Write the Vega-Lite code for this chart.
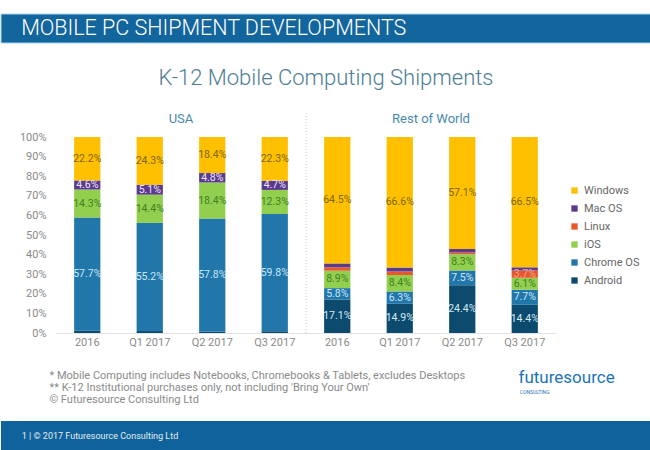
{
  "$schema": "https://vega.github.io/schema/vega-lite/v6.json",
  "background": "white",
  "padding": {"top": 13, "left": 0, "right": 0, "bottom": 0},
  "spacing": 17,
  "config": {"font": "Roboto", "view": {"stroke": null}},
  "vconcat": [
    {
      "width": 650,
      "height": 29,
      "layer": [
        {
          "data": {"values": [{"label": "banner"}]},
          "mark": {"type": "rect", "color": "#12659d", "stroke": "#a8d7f0", "strokeWidth": 1},
          "encoding": {}
        },
        {
          "data": {"values": [{"pos": 0.031, "label": "MOBILE PC SHIPMENT DEVELOPMENTS"}]},
          "mark": {"type": "text", "align": "left", "baseline": "middle", "fontSize": 21.5, "fontWeight": 300, "font": "Roboto", "color": "#ffffff"},
          "encoding": {
            "x": {"field": "pos", "type": "quantitative", "scale": {"domain": [0, 1]}, "axis": null},
            "text": {"field": "label"}
          }
        }
      ]
    },
    {
      "width": 650,
      "height": 196,
      "title": {
        "text": ["", "K-12 Mobile Computing Shipments"],
        "lineHeight": 6,
        "anchor": "middle",
        "frame": "group",
        "offset": 21,
        "fontSize": 22,
        "fontWeight": 300,
        "font": "Roboto",
        "color": "#4d7e94"
      },
      "data": {
        "values": [
          {"col": "USA|2016", "os": "Android", "rank": 1, "share": 0.012},
          {"col": "USA|2016", "os": "Chrome OS", "rank": 2, "share": 0.577},
          {"col": "USA|2016", "os": "iOS", "rank": 3, "share": 0.143},
          {"col": "USA|2016", "os": "Mac OS", "rank": 5, "share": 0.046},
          {"col": "USA|2016", "os": "Windows", "rank": 6, "share": 0.222},
          {"col": "USA|Q1 2017", "os": "Android", "rank": 1, "share": 0.010},
          {"col": "USA|Q1 2017", "os": "Chrome OS", "rank": 2, "share": 0.552},
          {"col": "USA|Q1 2017", "os": "iOS", "rank": 3, "share": 0.144},
          {"col": "USA|Q1 2017", "os": "Mac OS", "rank": 5, "share": 0.051},
          {"col": "USA|Q1 2017", "os": "Windows", "rank": 6, "share": 0.243},
          {"col": "USA|Q2 2017", "os": "Android", "rank": 1, "share": 0.006},
          {"col": "USA|Q2 2017", "os": "Chrome OS", "rank": 2, "share": 0.578},
          {"col": "USA|Q2 2017", "os": "iOS", "rank": 3, "share": 0.184},
          {"col": "USA|Q2 2017", "os": "Mac OS", "rank": 5, "share": 0.048},
          {"col": "USA|Q2 2017", "os": "Windows", "rank": 6, "share": 0.184},
          {"col": "USA|Q3 2017", "os": "Android", "rank": 1, "share": 0.009},
          {"col": "USA|Q3 2017", "os": "Chrome OS", "rank": 2, "share": 0.598},
          {"col": "USA|Q3 2017", "os": "iOS", "rank": 3, "share": 0.123},
          {"col": "USA|Q3 2017", "os": "Mac OS", "rank": 5, "share": 0.047},
          {"col": "USA|Q3 2017", "os": "Windows", "rank": 6, "share": 0.223},
          {"col": "Rest of World|2016", "os": "Android", "rank": 1, "share": 0.171},
          {"col": "Rest of World|2016", "os": "Chrome OS", "rank": 2, "share": 0.058},
          {"col": "Rest of World|2016", "os": "iOS", "rank": 3, "share": 0.089},
          {"col": "Rest of World|2016", "os": "Linux", "rank": 4, "share": 0.017},
          {"col": "Rest of World|2016", "os": "Mac OS", "rank": 5, "share": 0.020},
          {"col": "Rest of World|2016", "os": "Windows", "rank": 6, "share": 0.645},
          {"col": "Rest of World|Q1 2017", "os": "Android", "rank": 1, "share": 0.149},
          {"col": "Rest of World|Q1 2017", "os": "Chrome OS", "rank": 2, "share": 0.063},
          {"col": "Rest of World|Q1 2017", "os": "iOS", "rank": 3, "share": 0.084},
          {"col": "Rest of World|Q1 2017", "os": "Linux", "rank": 4, "share": 0.018},
          {"col": "Rest of World|Q1 2017", "os": "Mac OS", "rank": 5, "share": 0.020},
          {"col": "Rest of World|Q1 2017", "os": "Windows", "rank": 6, "share": 0.666},
          {"col": "Rest of World|Q2 2017", "os": "Android", "rank": 1, "share": 0.244},
          {"col": "Rest of World|Q2 2017", "os": "Chrome OS", "rank": 2, "share": 0.075},
          {"col": "Rest of World|Q2 2017", "os": "iOS", "rank": 3, "share": 0.083},
          {"col": "Rest of World|Q2 2017", "os": "Linux", "rank": 4, "share": 0.009},
          {"col": "Rest of World|Q2 2017", "os": "Mac OS", "rank": 5, "share": 0.018},
          {"col": "Rest of World|Q2 2017", "os": "Windows", "rank": 6, "share": 0.571},
          {"col": "Rest of World|Q3 2017", "os": "Android", "rank": 1, "share": 0.144},
          {"col": "Rest of World|Q3 2017", "os": "Chrome OS", "rank": 2, "share": 0.077},
          {"col": "Rest of World|Q3 2017", "os": "iOS", "rank": 3, "share": 0.061},
          {"col": "Rest of World|Q3 2017", "os": "Linux", "rank": 4, "share": 0.037},
          {"col": "Rest of World|Q3 2017", "os": "Mac OS", "rank": 5, "share": 0.016},
          {"col": "Rest of World|Q3 2017", "os": "Windows", "rank": 6, "share": 0.665}
        ]
      },
      "layer": [
        {
          "mark": {"type": "bar", "width": {"band": 0.42}},
          "encoding": {
            "x": {
              "field": "col",
              "type": "nominal",
              "scale": {
                "domain": ["USA|2016", "USA|Q1 2017", "USA|Q2 2017", "USA|Q3 2017", "Rest of World|2016", "Rest of World|Q1 2017", "Rest of World|Q2 2017", "Rest of World|Q3 2017"],
                "range": [55, 555],
                "paddingInner": 0,
                "paddingOuter": 0
              },
              "axis": {
                "labelExpr": "split(datum.label, '|')[1]",
                "labelAngle": 0,
                "ticks": false,
                "domain": true,
                "domainColor": "#e2e2e2",
                "labelPadding": 3,
                "labelFontSize": 11,
                "labelColor": "#8a8a8a",
                "title": ["* Mobile Computing includes Notebooks, Chromebooks & Tablets, excludes Desktops", "** K-12 Institutional purchases only, not including 'Bring Your Own'", "© Futuresource Consulting Ltd"],
                "titleAnchor": "start",
                "titleAlign": "left",
                "titleBaseline": "top",
                "titleX": 48,
                "titleY": 36,
                "titleFontSize": 11,
                "titleFontWeight": "normal",
                "titleColor": "#8a8a8a",
                "titleLineHeight": 12
              }
            },
            "y": {
              "field": "share",
              "type": "quantitative",
              "stack": "zero",
              "scale": {"domain": [0, 1]},
              "axis": {
                "orient": "left",
                "values": [0, 0.2, 0.4, 0.6, 0.8, 1],
                "format": ".0%",
                "title": null,
                "domain": false,
                "ticks": false,
                "grid": false,
                "labelOverlap": false,
                "labelPadding": 10,
                "labelFontSize": 11,
                "labelColor": "#8a8a8a",
                "offset": -55
              }
            },
            "order": {"field": "rank", "type": "quantitative", "sort": "ascending"},
            "color": {
              "field": "os",
              "type": "nominal",
              "scale": {
                "domain": ["Windows", "Mac OS", "Linux", "iOS", "Chrome OS", "Android"],
                "range": ["#ffc000", "#5b3a8e", "#e8562a", "#92cf4f", "#2176aa", "#0c4a6e"]
              },
              "legend": {
                "title": null,
                "orient": "none",
                "legendX": 568,
                "legendY": 48,
                "symbolType": "square",
                "symbolSize": 40,
                "symbolStrokeWidth": 0,
                "labelFontSize": 11,
                "labelColor": "#666666",
                "labelOffset": 4,
                "rowPadding": 6,
                "padding": 0
              }
            }
          }
        },
        {
          "mark": {"type": "text", "fontSize": 10.5, "baseline": "middle"},
          "encoding": {
            "x": {"field": "col", "type": "nominal"},
            "y": {
              "field": "share",
              "type": "quantitative",
              "stack": "zero",
              "bandPosition": 0.5,
              "axis": {
                "orient": "left",
                "values": [0.1, 0.3, 0.5, 0.7, 0.9],
                "format": ".0%",
                "title": null,
                "domain": false,
                "ticks": false,
                "grid": false,
                "labelOverlap": false,
                "labelPadding": 10,
                "labelFontSize": 11,
                "labelColor": "#8a8a8a",
                "offset": -55
              }
            },
            "order": {"field": "rank", "type": "quantitative", "sort": "ascending"},
            "color": {
              "field": "os",
              "type": "nominal",
              "scale": {
                "domain": ["Windows", "Mac OS", "Linux", "iOS", "Chrome OS", "Android"],
                "range": ["#7d6608", "#ece6f7", "#f4a58e", "#3f7f22", "#c8e7f8", "#d3e9f5"]
              },
              "legend": null
            },
            "text": {
              "condition": {"test": "datum.share < 0.03", "value": ""},
              "field": "share",
              "type": "quantitative",
              "format": ".1%"
            }
          }
        },
        {
          "data": {"values": [{"col": "USA|Q1 2017", "region": "USA"}, {"col": "Rest of World|Q1 2017", "region": "Rest of World"}]},
          "mark": {"type": "text", "fontSize": 13, "color": "#4a88ad", "baseline": "middle"},
          "encoding": {
            "x": {"field": "col", "type": "nominal", "bandPosition": 1},
            "y": {"datum": 1.09, "axis": null},
            "text": {"field": "region"}
          }
        },
        {
          "data": {"values": [{"col": "Rest of World|2016"}]},
          "mark": {"type": "rule", "color": "#c8c8c8", "strokeDash": [1, 2], "strokeWidth": 1},
          "encoding": {
            "x": {"field": "col", "type": "nominal", "bandPosition": 0},
            "y": {"datum": 0, "axis": null},
            "y2": {"datum": 1.13}
          }
        },
        {
          "data": {"values": [{"col": "Rest of World|Q3 2017", "brand": "futuresource"}]},
          "mark": {"type": "text", "fontSize": 17, "color": "#1b74b6", "align": "left", "baseline": "middle"},
          "encoding": {
            "x": {"field": "col", "type": "nominal", "bandPosition": 0.4},
            "y": {"datum": -0.23, "axis": null},
            "text": {"field": "brand"}
          }
        },
        {
          "data": {"values": [{"col": "Rest of World|Q3 2017", "brand": "CONSULTING"}]},
          "mark": {"type": "text", "fontSize": 5, "color": "#1b74b6", "align": "left", "baseline": "middle"},
          "encoding": {
            "x": {"field": "col", "type": "nominal", "bandPosition": 0.42},
            "y": {"datum": -0.3, "axis": null},
            "text": {"field": "brand"}
          }
        }
      ],
      "resolve": {"scale": {"color": "independent"}, "axis": {"y": "independent"}}
    },
    {
      "width": 650,
      "height": 29,
      "layer": [
        {
          "data": {"values": [{"label": "footer"}]},
          "mark": {"type": "rect", "color": "#10629a"},
          "encoding": {}
        },
        {
          "data": {"values": [{"pos": 0.032, "label": "1  |  © 2017 Futuresource Consulting Ltd"}]},
          "mark": {"type": "text", "align": "left", "baseline": "middle", "fontSize": 9, "font": "Roboto", "color": "#e3eef6"},
          "encoding": {
            "x": {"field": "pos", "type": "quantitative", "scale": {"domain": [0, 1]}, "axis": null},
            "text": {"field": "label"}
          }
        }
      ]
    }
  ]
}
